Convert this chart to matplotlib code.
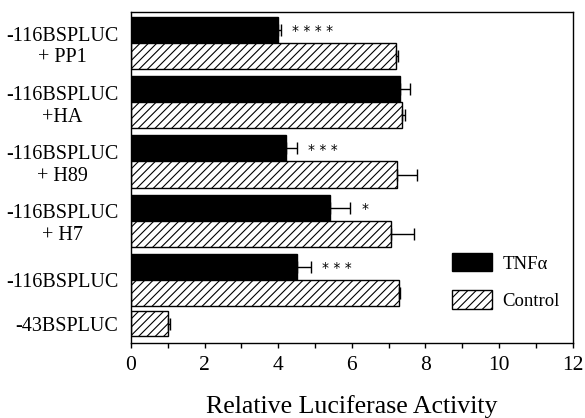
import matplotlib
matplotlib.use("Agg")
import matplotlib.pyplot as plt
from matplotlib.ticker import MultipleLocator
from matplotlib.patches import Patch

plt.rcParams['font.family'] = ['Liberation Serif', 'DejaVu Serif']
plt.rcParams['hatch.linewidth'] = 0.8

groups = ["-116BSPLUC\n+ PP1", "-116BSPLUC\n+HA", "-116BSPLUC\n+ H89",
          "-116BSPLUC\n+ H7", "-116BSPLUC"]
tnf = [4.0, 7.3, 4.2, 5.4, 4.5]
tnf_err = [0.07, 0.28, 0.32, 0.56, 0.40]
ctrl = [7.2, 7.35, 7.22, 7.05, 7.27]
ctrl_err = [0.04, 0.1, 0.55, 0.65, 0.04]
stars = ["****", "", "***", "*", "***"]
base_label = "-43BSPLUC"
base_ctrl = 1.0
base_err = 0.06

fig = plt.figure(figsize=(5.85, 4.18), dpi=100)
ax = fig.add_axes([0.224, 0.179, 0.755, 0.792])

pos = list(range(len(groups)))
h = 0.44
tnf_pos = [p - h / 2 for p in pos]
ctrl_pos = [p + h / 2 for p in pos]
base_pos = 4.74

ax.barh(tnf_pos, tnf, height=h, color='black', edgecolor='black', linewidth=1)
ax.barh(ctrl_pos, ctrl, height=h, color='white', edgecolor='black',
        hatch='////', linewidth=1)
ax.barh([base_pos], [base_ctrl], height=0.42, color='white', edgecolor='black',
        hatch='////', linewidth=1)

ekw = dict(fmt='none', ecolor='black', elinewidth=1, capsize=4.5, capthick=1)
ax.errorbar(tnf, tnf_pos, xerr=[[0] * len(tnf), tnf_err], **ekw)
ax.errorbar(ctrl, ctrl_pos, xerr=[[0] * len(ctrl), ctrl_err], **ekw)
ax.errorbar([base_ctrl], [base_pos], xerr=[[0], [base_err]], **ekw)

for v, e, y, s in zip(tnf, tnf_err, tnf_pos, stars):
    if s:
        ax.text(v + e + 0.3, y + 0.02, " ".join(s), fontsize=10, va='center',
                ha='left', family='DejaVu Sans')

ax.set_xlim(0, 12)
ax.set_ylim(5.07, -0.524)
ax.xaxis.set_major_locator(MultipleLocator(2))
ax.xaxis.set_minor_locator(MultipleLocator(1))
ax.tick_params(axis='x', which='both', direction='out', length=3.5, width=1,
               labelsize=15.5, pad=6)
ax.set_yticks(pos + [base_pos])
ax.set_yticklabels([g for g in groups] + [base_label], fontsize=14.5)
for lab in ax.get_yticklabels():
    lab.set_multialignment('center')
ax.tick_params(axis='y', length=0, pad=9)
ax.set_xlabel("Relative Luciferase Activity", fontsize=18.6, labelpad=14)

handles = [Patch(facecolor='black', edgecolor='black', label='TNFα'),
           Patch(facecolor='white', edgecolor='black', hatch='////', label='Control')]
ax.legend(handles=handles, loc='upper left', bbox_to_anchor=(0.709, 0.295),
          borderaxespad=0, frameon=False, fontsize=13.5, handlelength=2.15,
          handleheight=1.12, labelspacing=0.95, handletextpad=0.55)

for s in ax.spines.values():
    s.set_linewidth(1)

fig.savefig("out.png", dpi=100)
